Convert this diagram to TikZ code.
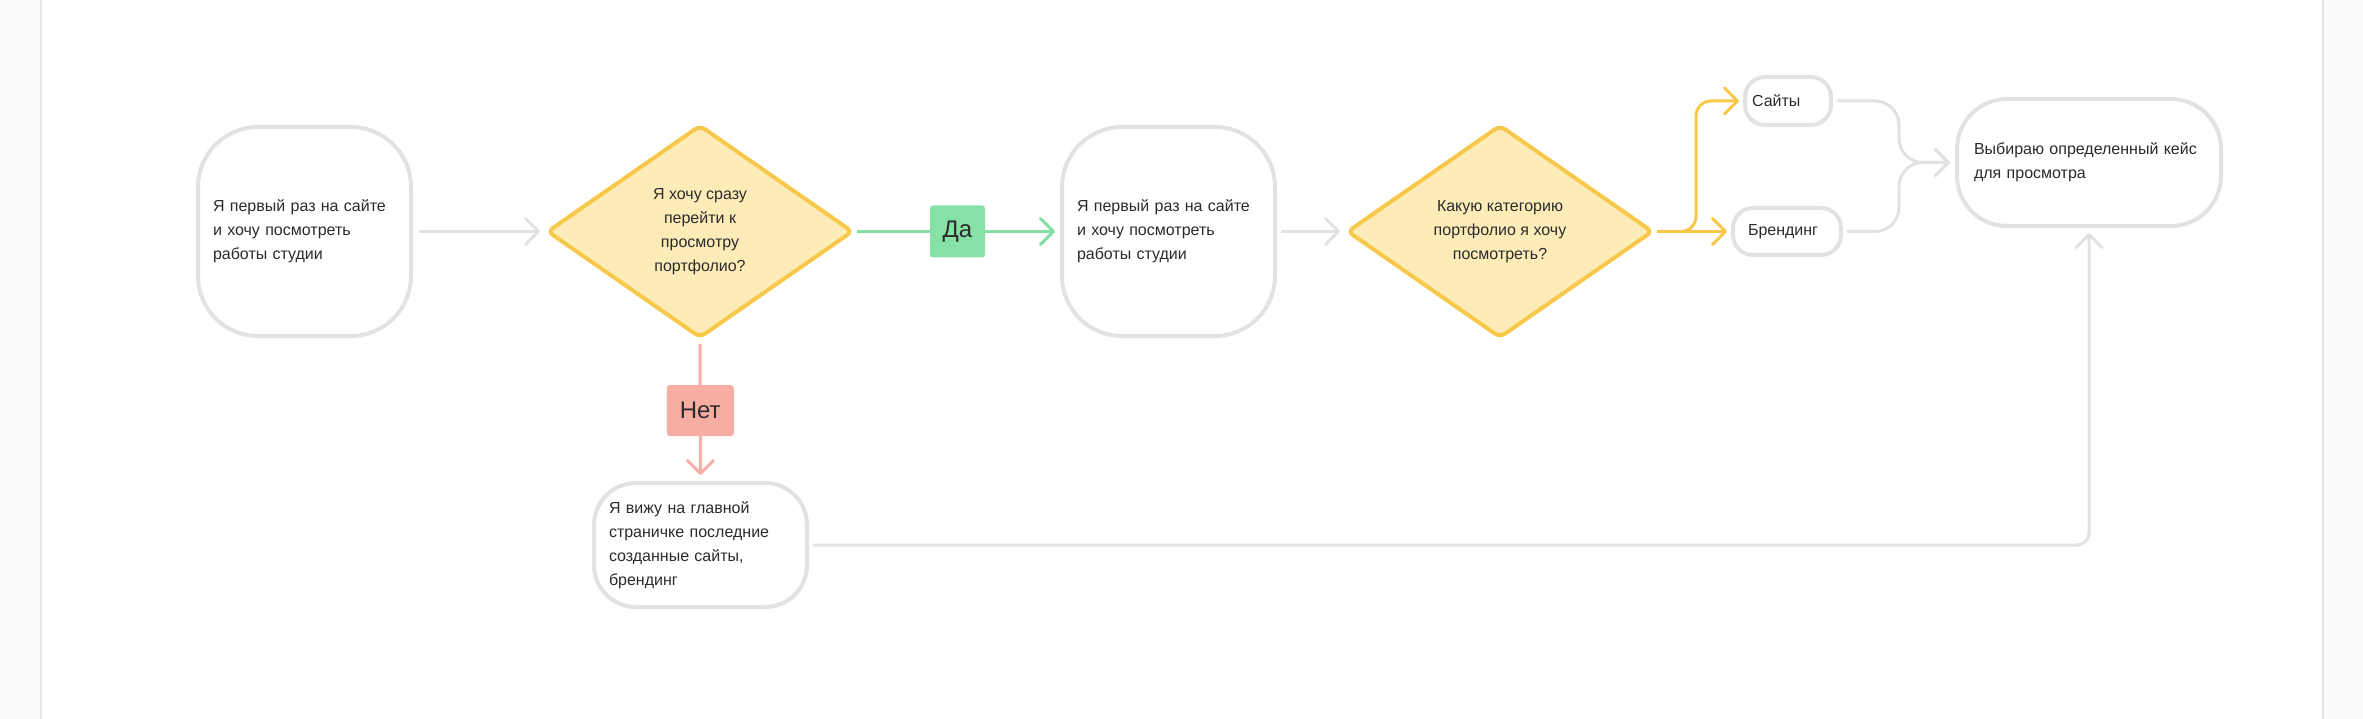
\documentclass[tikz,border=0pt]{standalone}
\usepackage{fontspec}
\setmainfont{Liberation Sans}
\usetikzlibrary{shapes.geometric,arrows.meta}
\definecolor{gline}{HTML}{E2E2E2}
\definecolor{ystroke}{HTML}{F8C84A}
\definecolor{yfill}{HTML}{FDECB8}
\definecolor{gstroke}{HTML}{84DEA6}
\definecolor{gfill}{HTML}{86E1A7}
\definecolor{rstroke}{HTML}{F6B0A6}
\definecolor{rfill}{HTML}{F8ADA2}
\definecolor{txt}{HTML}{2B2B2B}
\definecolor{panelline}{HTML}{E4E4E4}
\definecolor{outside}{HTML}{FCFCFC}
\begin{document}
\begin{tikzpicture}[x=1pt,y=-1pt,
  every node/.style={text=txt},
  card/.style={draw=gline, line width=4pt, fill=white, align=left, inner ysep=0pt,
    font=\fontsize{16}{24}\selectfont},
  decision/.style={diamond, draw=ystroke, fill=yfill, line width=4pt, rounded corners=6pt,
    align=center, inner sep=0pt, font=\fontsize{16}{24}\selectfont,
    minimum width=306pt, minimum height=213pt},
  tag/.style={inner sep=0pt, rounded corners=3pt, font=\fontsize{24}{28}\selectfont},
  flow/.style={line width=3pt, -{Straight Barb[length=13pt,width=26pt,round]}},
]
\useasboundingbox (0,0) rectangle (2363,719);
\fill[outside] (0,0) rectangle (2363,719);
\fill[white] (41,0) rectangle (2323,719);
\draw[panelline, line width=1.5pt] (41,0) -- (41,719);
\draw[panelline, line width=1.5pt] (2323,0) -- (2323,719);

% nodes
\node[card, text width=183pt, inner xsep=15pt, minimum height=209pt, rounded corners=60pt]
  (b1) at (304.5,231.5) {Я первый раз на сайте\\и хочу посмотреть\\работы студии};
\node[decision] (d1) at (700,231.5) {Я хочу сразу\\перейти к\\просмотру\\портфолио?};
\node[card, text width=183pt, inner xsep=15pt, minimum height=209pt, rounded corners=60pt]
  (b2) at (1168.5,231.5) {Я первый раз на сайте\\и хочу посмотреть\\работы студии};
\node[decision] (d2) at (1500,231.5) {Какую категорию\\портфолио я хочу\\посмотреть?};
\node[card, text width=72pt, inner xsep=7pt, minimum height=48pt, rounded corners=20pt]
  (sites) at (1788,101) {Сайты};
\node[card, text width=78pt, inner xsep=15pt, minimum height=47pt, rounded corners=20pt]
  (brand) at (1787,231.5) {Брендинг};
\node[card, text width=230pt, inner xsep=17pt, minimum height=127pt, rounded corners=50pt]
  (final) at (2089,162.5) {Выбираю определенный кейс\\для просмотра};
\node[card, text width=183pt, inner xsep=15pt, minimum height=124pt, rounded corners=42pt]
  (b3) at (700.5,545) {Я вижу на главной\\страничке последние\\созданные сайты,\\брендинг};

% connectors
\draw[flow, draw=gline, shorten <=6pt, shorten >=5pt] (b1.east) -- (d1.west);
\draw[flow, draw=gstroke, shorten <=2pt, shorten >=5pt] (d1.east) --
  node[tag, fill=gfill, minimum width=55pt, minimum height=52pt] (da) {Да} (b2.west);
\draw[flow, draw=rstroke, shorten <=4pt, shorten >=6pt] (d1.south) --
  node[tag, fill=rfill, minimum width=67pt, minimum height=51pt] (net) {Нет} (b3.north);
\draw[flow, draw=gline, shorten <=4pt, shorten >=5pt] (b2.east) -- (d2.west);
\draw[flow, draw=ystroke, shorten <=2pt, shorten >=4pt] (d2.east) -- (brand.west);
\draw[flow, draw=ystroke, rounded corners=15pt, shorten <=2pt, shorten >=4pt]
  (d2.east) -- ([xshift=41pt]d2.east) |- (sites.west);
\draw[flow, draw=gline, rounded corners=24pt, shorten <=4pt, shorten >=5pt]
  (sites.east) -| ([xshift=-56pt]final.west) -- (final.west);
\draw[flow, draw=gline, rounded corners=24pt, shorten <=4pt, shorten >=5pt]
  (brand.east) -| ([xshift=-56pt]final.west) -- (final.west);
\draw[flow, draw=gline, rounded corners=12pt, shorten <=4pt, shorten >=5pt]
  (b3.east) -| (final.south);
\end{tikzpicture}
\end{document}
